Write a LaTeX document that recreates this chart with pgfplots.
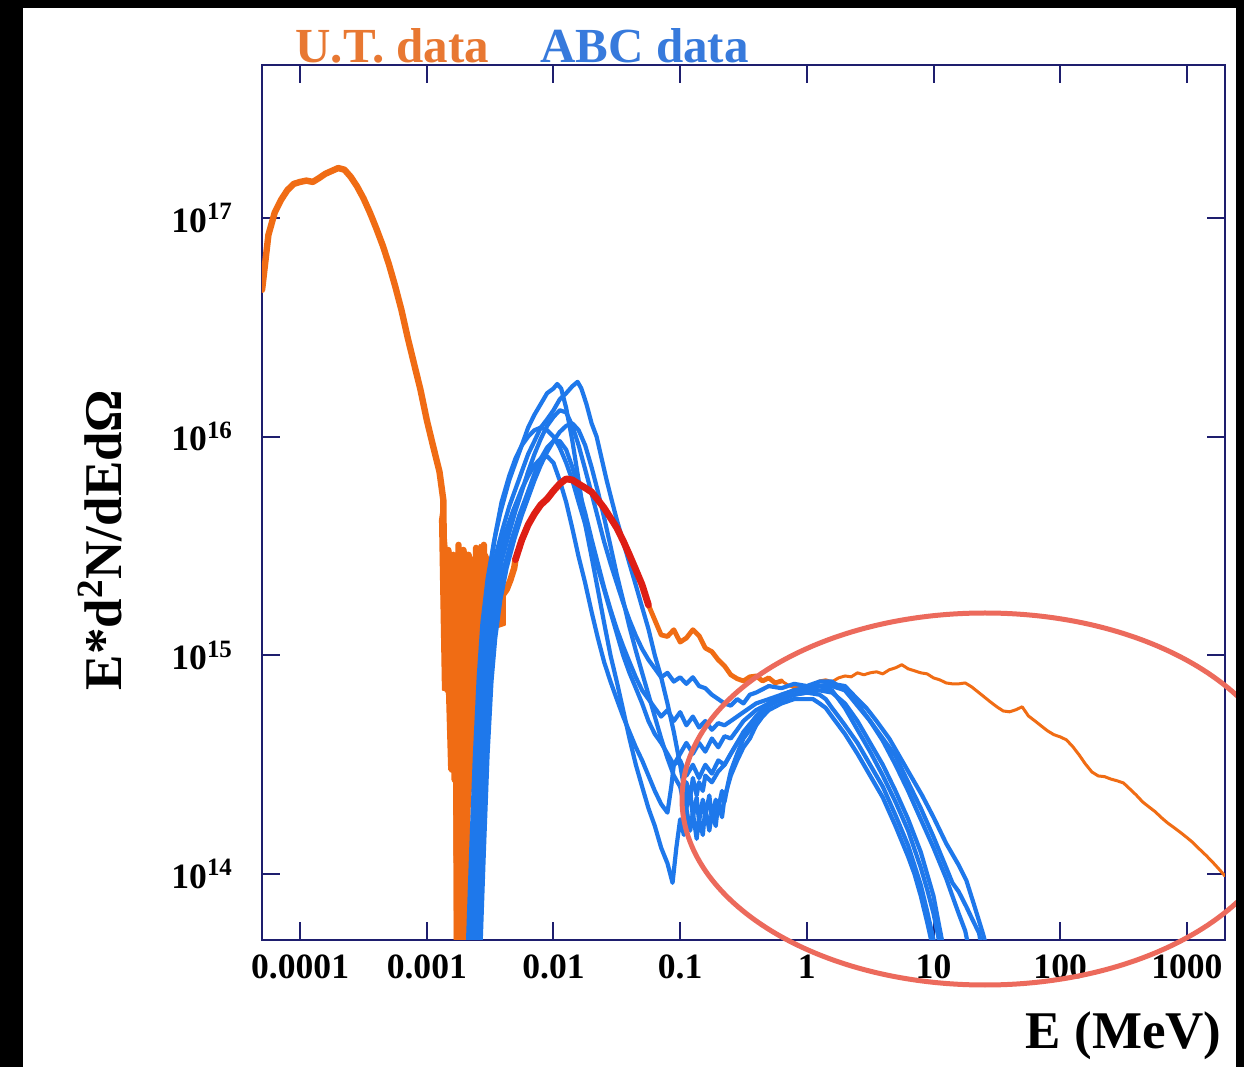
\documentclass[border=0pt]{standalone}
\usepackage{fontspec}
\setmainfont{Liberation Serif}
\usepackage{pgfplots}
\pgfplotsset{compat=1.18}
\definecolor{utorange}{RGB}{240,108,20}
\definecolor{uttitle}{RGB}{232,120,50}
\definecolor{abcblue}{RGB}{30,120,235}
\definecolor{abctitle}{RGB}{55,122,220}
\definecolor{utred}{RGB}{222,30,20}
\definecolor{ellred}{RGB}{236,106,92}
\definecolor{axnavy}{RGB}{30,30,110}
\begin{document}
\begin{tikzpicture}
\useasboundingbox (-131pt,-63.5pt) rectangle (491pt,470pt);
\fill[black] (-131pt,-63.5pt) rectangle (491pt,470pt);
\fill[white] (-119.5pt,-63.5pt) rectangle (487pt,466pt);
\begin{axis}[
  at={(0pt,0pt)}, anchor=south west,
  scale only axis, width=481.5pt, height=437.5pt,
  xmode=log, ymode=log,
  xmin=5e-5, xmax=2e3, ymin=5e13, ymax=5e17,
  axis line style={axnavy, line width=1pt},
  every tick/.style={axnavy, line width=1pt},
  major tick length=9pt, tick align=inside,
  xtick={1e-4,1e-3,1e-2,1e-1,1,10,100,1000},
  xticklabels={0.0001,0.001,0.01,0.1,1,10,100,1000},
  ytick={1e14,1e15,1e16,1e17},
  yticklabels={10\textsuperscript{14},10\textsuperscript{15},10\textsuperscript{16},10\textsuperscript{17}},
  xminorticks=false, yminorticks=false,
  tick label style={font=\fontsize{17.8}{20}\selectfont\bfseries, text=black},
  xticklabel style={yshift=-4pt},
  yticklabel style={xshift=-11pt},
  every axis plot/.append style={line join=round, line cap=round},
  clip=true,
]
% U.T. data, solid noisy region
\addplot[fill=utorange, draw=utorange, line width=1pt] coordinates {
(1.27e-3,4.16e15) (1.34e-3,5.14e15) (1.44e-3,3.03e15) (1.67e-3,2.88e15) (1.93e-3,3.10e15)
(2.28e-3,2.74e15) (2.63e-3,3.20e15) (2.99e-3,2.88e15) (3.45e-3,2.33e15) (4.14e-3,1.89e15)
(4.14e-3,1.38e15) (3.15e-3,1.31e15) (2.63e-3,6.27e14) (2.19e-3,2.18e14) (2.04e-3,4e13)
(1.67e-3,4e13) (1.64e-3,3.0e14) (1.50e-3,3.0e14) (1.44e-3,6.95e14) (1.34e-3,6.95e14)
(1.27e-3,4.16e15)
} -- cycle;
% U.T. data, low-energy part with noisy dip
\addplot[utorange, line width=3.2pt] coordinates {
(5.01e-5,4.69e16) (5.62e-5,8.36e16) (6.31e-5,1.06e17) (7.08e-5,1.21e17) (7.94e-5,1.34e17)
(8.91e-5,1.43e17) (1.00e-4,1.46e17) (1.12e-4,1.48e17) (1.26e-4,1.46e17) (1.41e-4,1.52e17)
(1.58e-4,1.59e17) (1.78e-4,1.64e17) (2.00e-4,1.69e17) (2.24e-4,1.66e17) (2.51e-4,1.54e17)
(2.82e-4,1.39e17) (3.16e-4,1.23e17) (3.55e-4,1.06e17) (3.98e-4,9.00e16) (4.47e-4,7.53e16)
(5.01e-4,6.17e16) (5.62e-4,4.89e16) (6.31e-4,3.79e16) (7.08e-4,2.82e16) (7.94e-4,2.15e16)
(8.91e-4,1.64e16) (1.00e-3,1.19e16) (1.12e-3,9.08e15) (1.26e-3,6.90e15) (1.35e-3,5.14e15)
(1.36e-3,3.37e15) (1.38e-3,1.18e15) (1.41e-3,2.74e15) (1.45e-3,6.95e14) (1.48e-3,3.03e15)
(1.51e-3,6.26e14) (1.55e-3,2.59e15) (1.58e-3,3.0e14) (1.62e-3,2.88e15) (1.66e-3,2.70e14)
(1.70e-3,2.74e15) (1.74e-3,1e13) (1.78e-3,3.20e15) (1.82e-3,1e13) (1.86e-3,2.59e15)
(1.91e-3,1e13) (1.95e-3,3.03e15) (2.00e-3,1e13) (2.04e-3,2.59e15) (2.09e-3,2.19e14)
(2.14e-3,2.88e15) (2.19e-3,3.33e14) (2.24e-3,2.46e15) (2.29e-3,4.11e14) (2.34e-3,2.74e15)
(2.40e-3,5.07e14) (2.45e-3,3.10e15) (2.51e-3,6.26e14) (2.57e-3,2.46e15) (2.63e-3,7.73e14)
(2.69e-3,2.74e15) (2.75e-3,9.53e14) (2.82e-3,3.20e15) (2.88e-3,1.18e15) (2.95e-3,2.59e15)
(3.02e-3,1.31e15) (3.09e-3,2.33e15) (3.16e-3,1.38e15) (3.24e-3,2.10e15) (3.31e-3,1.31e15)
(3.39e-3,2.0e15) (3.47e-3,1.45e15) (3.55e-3,1.79e15) (3.72e-3,1.70e15) (3.98e-3,1.89e15)
(4.27e-3,2.0e15) (4.57e-3,2.21e15) (4.90e-3,2.51e15) (5.01e-3,2.74e15)
};
% U.T. data, high-energy part
\addplot[utorange, line width=2.4pt] coordinates {
(5.62e-2,1.70e15) (6.31e-2,1.45e15) (7.08e-2,1.24e15) (7.94e-2,1.22e15) (8.91e-2,1.31e15)
(0.100,1.15e15) (0.112,1.20e15) (0.126,1.31e15) (0.141,1.23e15) (0.158,1.08e15)
(0.178,1.04e15) (0.200,9.53e14) (0.224,8.95e14) (0.251,8.15e14) (0.282,7.82e14)
(0.316,7.64e14) (0.355,7.98e14) (0.398,8.05e14) (0.447,7.64e14) (0.501,7.89e14)
(0.562,7.48e14) (0.631,7.64e14)
};
\addplot[utorange, line width=1.5pt] coordinates {
(0.631,7.64e14) (0.708,7.33e14) (0.794,7.10e14) (0.891,7.26e14) (1.00,6.95e14)
(1.12,7.26e14) (1.26,7.64e14) (1.41,7.73e14) (1.58,7.57e14) (1.78,7.89e14)
(2.00,8.05e14) (2.24,7.98e14) (2.51,8.32e14) (2.82,8.15e14) (3.16,8.32e14)
(3.55,8.41e14) (3.98,8.23e14) (4.47,8.59e14) (5.01,8.77e14) (5.62,9.06e14)
(6.31,8.68e14) (7.08,8.50e14) (7.94,8.32e14) (8.91,8.23e14) (10.0,7.89e14)
(11.2,7.73e14) (12.6,7.48e14) (14.1,7.41e14) (15.8,7.41e14) (17.8,7.48e14)
(20.0,7.18e14) (22.4,6.81e14) (25.1,6.46e14) (28.2,6.12e14) (31.6,5.82e14)
(35.5,5.57e14) (39.8,5.52e14) (44.7,5.64e14) (50.1,5.82e14) (56.2,5.28e14)
(63.1,5.02e14) (70.8,4.76e14) (79.4,4.52e14) (89.1,4.34e14) (100,4.24e14)
(112,4.11e14) (126,3.82e14) (141,3.51e14) (158,3.19e14) (178,2.93e14)
(200,2.81e14) (224,2.79e14) (251,2.72e14) (282,2.67e14) (316,2.61e14)
(355,2.45e14) (398,2.30e14) (447,2.14e14) (501,2.03e14) (562,1.93e14)
(631,1.81e14) (708,1.71e14) (794,1.63e14) (891,1.55e14) (1000,1.47e14)
(1122,1.39e14) (1259,1.30e14) (1413,1.22e14) (1585,1.14e14) (1778,1.06e14)
(1995,9.82e13)
};
% ABC data
\addplot[abcblue, line width=2.1pt] coordinates {
(2.00e-3,2.0e13) (2.09e-3,3.98e13) (2.24e-3,1.26e14) (2.40e-3,3.55e14) (2.57e-3,7.94e14)
(2.75e-3,1.41e15) (3.02e-3,2.24e15) (3.39e-3,3.31e15) (3.80e-3,4.47e15) (4.47e-3,6.31e15)
(5.01e-3,7.59e15) (5.62e-3,9.12e15) (6.31e-3,1.10e16) (7.08e-3,1.26e16) (7.94e-3,1.41e16)
(8.91e-3,1.58e16) (1.00e-2,1.66e16) (1.07e-2,1.74e16) (1.15e-2,1.66e16) (1.26e-2,1.35e16)
(1.41e-2,9.55e15) (1.58e-2,6.31e15) (1.78e-2,3.98e15) (2.00e-2,2.82e15) (2.24e-2,2.00e15)
(2.51e-2,1.41e15) (2.82e-2,1.00e15) (3.16e-2,7.59e14) (3.55e-2,5.62e14) (3.98e-2,4.17e14)
(4.47e-2,3.16e14) (5.01e-2,2.51e14) (5.62e-2,2.00e14) (6.31e-2,1.66e14) (7.08e-2,1.32e14)
(7.94e-2,1.12e14) (8.71e-2,9.12e13) (9.33e-2,1.32e14) (0.100,1.78e14) (0.107,1.51e14)
(0.112,2.00e14) (0.120,1.58e14) (0.126,1.91e14) (0.135,1.45e14) (0.141,1.78e14)
(0.151,1.51e14) (0.158,2.00e14) (0.170,1.58e14) (0.178,1.91e14) (0.191,1.66e14)
(0.200,2.14e14) (0.214,1.82e14) (0.224,2.24e14) (0.251,2.82e14) (0.282,3.31e14)
(0.316,3.80e14) (0.355,4.17e14) (0.398,4.79e14) (0.447,5.25e14) (0.501,5.62e14)
(0.631,6.03e14) (0.794,6.31e14) (1.00,6.31e14) (1.12,6.31e14) (1.26,6.03e14)
(1.41,5.75e14) (1.58,5.25e14) (2.00,4.37e14) (2.51,3.55e14) (3.16,2.82e14)
(3.98,2.24e14) (5.01,1.66e14) (6.31,1.20e14) (7.08,1.00e14) (7.94,7.94e13)
(8.91,6.03e13) (10.0,4.47e13)
};
\addplot[abcblue, line width=2.1pt] coordinates {
(2.00e-3,2.0e13) (2.19e-3,3.98e13) (2.34e-3,1.26e14) (2.51e-3,3.55e14) (2.69e-3,7.94e14)
(2.88e-3,1.32e15) (3.16e-3,2.00e15) (3.55e-3,2.95e15) (3.98e-3,3.80e15) (4.47e-3,4.79e15)
(5.01e-3,5.75e15) (5.62e-3,6.92e15) (6.31e-3,8.32e15) (7.08e-3,9.55e15) (7.94e-3,1.10e16)
(8.91e-3,1.20e16) (1.00e-2,1.32e16) (1.12e-2,1.48e16) (1.26e-2,1.58e16) (1.41e-2,1.70e16)
(1.55e-2,1.78e16) (1.66e-2,1.66e16) (1.82e-2,1.41e16) (2.00e-2,1.15e16) (2.19e-2,1.00e16)
(2.40e-2,7.94e15) (2.63e-2,6.31e15) (2.88e-2,5.13e15) (3.16e-2,4.17e15) (3.55e-2,3.31e15)
(3.98e-2,2.63e15) (4.47e-2,2.09e15) (5.01e-2,1.66e15) (5.62e-2,1.32e15) (6.31e-2,1.00e15)
(7.08e-2,7.94e14) (7.94e-2,6.03e14) (8.91e-2,4.47e14) (0.100,3.16e14) (0.107,2.51e14)
(0.112,2.00e14) (0.120,2.40e14) (0.126,1.82e14) (0.135,2.24e14) (0.141,1.74e14)
(0.151,2.19e14) (0.158,1.86e14) (0.170,2.29e14) (0.178,1.78e14) (0.191,2.19e14)
(0.200,2.00e14) (0.214,2.40e14) (0.224,2.14e14) (0.240,2.63e14) (0.251,2.95e14)
(0.282,3.55e14) (0.316,4.17e14) (0.355,4.57e14) (0.398,5.01e14) (0.447,5.50e14)
(0.501,6.03e14) (0.631,6.31e14) (0.794,6.61e14) (1.00,6.76e14) (1.26,6.61e14)
(1.41,6.31e14) (1.58,5.75e14) (1.78,5.25e14) (2.00,4.79e14) (2.51,3.98e14)
(3.16,3.16e14) (3.98,2.51e14) (5.01,1.86e14) (6.31,1.35e14) (7.94,8.91e13)
(8.91,6.76e13) (10.0,5.01e13) (11.2,3.55e13)
};
\addplot[abcblue, line width=2.1pt] coordinates {
(2.00e-3,2.0e13) (2.14e-3,3.98e13) (2.29e-3,1.26e14) (2.45e-3,3.55e14) (2.63e-3,7.94e14)
(2.82e-3,1.41e15) (3.09e-3,2.24e15) (3.47e-3,3.55e15) (3.89e-3,5.01e15) (4.47e-3,6.61e15)
(5.01e-3,7.94e15) (5.62e-3,9.12e15) (6.31e-3,1.00e16) (7.08e-3,1.07e16) (7.94e-3,1.10e16)
(8.91e-3,1.07e16) (1.00e-2,1.00e16) (1.12e-2,8.91e15) (1.26e-2,7.59e15) (1.41e-2,6.31e15)
(1.58e-2,5.01e15) (1.78e-2,3.98e15) (2.00e-2,3.16e15) (2.24e-2,2.51e15) (2.51e-2,2.00e15)
(2.82e-2,1.58e15) (3.16e-2,1.26e15) (3.55e-2,1.00e15) (3.98e-2,8.32e14) (4.47e-2,7.08e14)
(5.01e-2,6.03e14) (5.62e-2,5.01e14) (6.31e-2,4.37e14) (7.08e-2,3.98e14) (7.94e-2,3.55e14)
(8.91e-2,3.16e14) (0.100,3.31e14) (0.112,2.82e14) (0.126,3.16e14) (0.141,2.75e14)
(0.158,3.16e14) (0.178,2.88e14) (0.200,3.31e14) (0.224,3.16e14) (0.251,3.55e14)
(0.282,3.98e14) (0.316,4.37e14) (0.355,4.79e14) (0.398,5.25e14) (0.501,6.03e14)
(0.631,6.61e14) (0.794,6.92e14) (1.00,7.08e14) (1.26,7.24e14) (1.58,6.92e14)
(1.78,6.31e14) (2.00,5.75e14) (2.24,5.13e14) (2.51,4.57e14) (3.16,3.63e14)
(3.98,2.82e14) (5.01,2.14e14) (6.31,1.58e14) (7.94,1.07e14) (8.91,8.51e13)
(10.0,6.61e13) (11.2,4.79e13) (12.6,3.16e13)
};
\addplot[abcblue, line width=2.1pt] coordinates {
(2.00e-3,1.0e13) (2.29e-3,3.98e13) (2.45e-3,1.26e14) (2.63e-3,3.55e14) (2.82e-3,7.94e14)
(3.02e-3,1.32e15) (3.31e-3,2.00e15) (3.72e-3,2.82e15) (4.17e-3,3.63e15) (4.79e-3,4.57e15)
(5.62e-3,5.75e15) (6.31e-3,6.61e15) (7.08e-3,7.41e15) (7.94e-3,7.94e15) (8.91e-3,8.13e15)
(1.00e-2,7.59e15) (1.12e-2,6.31e15) (1.26e-2,5.01e15) (1.41e-2,3.80e15) (1.58e-2,2.82e15)
(1.78e-2,2.14e15) (2.00e-2,1.58e15) (2.24e-2,1.20e15) (2.51e-2,9.33e14) (2.82e-2,7.59e14)
(3.16e-2,6.31e14) (3.55e-2,5.25e14) (3.98e-2,4.47e14) (4.47e-2,3.80e14) (5.01e-2,3.31e14)
(5.62e-2,2.82e14) (6.31e-2,2.40e14) (7.08e-2,2.09e14) (7.94e-2,1.91e14) (8.51e-2,2.51e14)
(8.91e-2,3.16e14) (0.100,3.55e14) (0.112,3.98e14) (0.126,3.55e14) (0.141,3.98e14)
(0.158,3.63e14) (0.178,4.17e14) (0.200,3.80e14) (0.224,4.27e14) (0.251,4.17e14)
(0.282,4.57e14) (0.316,5.01e14) (0.398,5.62e14) (0.501,6.03e14) (0.631,6.31e14)
(0.794,6.61e14) (1.00,6.76e14) (1.26,6.92e14) (1.58,6.76e14) (2.00,6.03e14)
(2.24,5.50e14) (2.51,5.01e14) (3.16,3.98e14) (3.98,3.16e14) (5.01,2.40e14)
(6.31,1.78e14) (7.94,1.26e14) (10.0,7.94e13) (11.2,5.62e13) (12.6,3.98e13)
};
\addplot[abcblue, line width=2.1pt] coordinates {
(2.00e-3,1.0e13) (2.40e-3,3.98e13) (2.57e-3,1.26e14) (2.75e-3,3.55e14) (2.95e-3,7.94e14)
(3.16e-3,1.26e15) (3.47e-3,1.91e15) (3.89e-3,2.69e15) (4.47e-3,3.63e15) (5.01e-3,4.57e15)
(5.62e-3,5.62e15) (6.31e-3,6.92e15) (7.08e-3,8.32e15) (7.94e-3,9.77e15) (8.91e-3,1.12e16)
(1.00e-2,1.23e16) (1.12e-2,1.32e16) (1.26e-2,1.29e16) (1.41e-2,1.12e16) (1.58e-2,9.12e15)
(1.78e-2,7.08e15) (2.00e-2,5.50e15) (2.24e-2,4.27e15) (2.51e-2,3.31e15) (2.82e-2,2.63e15)
(3.16e-2,2.14e15) (3.55e-2,1.74e15) (3.98e-2,1.45e15) (4.47e-2,1.23e15) (5.01e-2,1.07e15)
(5.62e-2,9.55e14) (6.31e-2,8.71e14) (7.08e-2,7.94e14) (7.94e-2,8.32e14) (8.91e-2,7.59e14)
(0.100,7.94e14) (0.112,7.41e14) (0.126,7.94e14) (0.141,7.24e14) (0.158,7.08e14)
(0.178,6.61e14) (0.200,6.31e14) (0.224,6.03e14) (0.251,5.89e14) (0.282,6.31e14)
(0.316,6.03e14) (0.355,6.61e14) (0.398,6.76e14) (0.501,7.24e14) (0.631,7.08e14)
(0.794,7.41e14) (1.00,7.24e14) (1.26,7.59e14) (1.58,7.59e14) (2.00,6.92e14)
(2.51,5.89e14) (3.16,5.01e14) (3.98,4.17e14) (5.01,3.47e14) (6.31,2.63e14)
(7.94,2.00e14) (10.0,1.48e14) (12.6,1.07e14) (14.1,9.12e13) (15.8,8.32e13)
(18.2,7.08e13) (20.0,6.31e13) (22.9,5.37e13) (25.1,3.98e13)
};
\addplot[abcblue, line width=2.1pt] coordinates {
(2.00e-3,1.0e13) (2.51e-3,3.98e13) (2.69e-3,1.26e14) (2.88e-3,3.55e14) (3.09e-3,7.59e14)
(3.31e-3,1.20e15) (3.63e-3,1.78e15) (4.07e-3,2.51e15) (4.68e-3,3.39e15) (5.37e-3,4.37e15)
(6.31e-3,5.62e15) (7.08e-3,6.76e15) (7.94e-3,7.94e15) (8.91e-3,8.91e15) (1.00e-2,9.55e15)
(1.12e-2,9.55e15) (1.26e-2,8.71e15) (1.41e-2,7.24e15) (1.58e-2,5.75e15) (1.78e-2,4.47e15)
(2.00e-2,3.39e15) (2.24e-2,2.63e15) (2.51e-2,2.04e15) (2.82e-2,1.62e15) (3.16e-2,1.32e15)
(3.55e-2,1.10e15) (3.98e-2,9.33e14) (4.47e-2,7.94e14) (5.01e-2,6.92e14) (5.62e-2,6.31e14)
(6.31e-2,5.75e14) (7.08e-2,5.25e14) (7.94e-2,5.62e14) (8.91e-2,5.01e14) (0.100,5.50e14)
(0.112,4.79e14) (0.126,5.25e14) (0.141,4.68e14) (0.158,5.01e14) (0.178,4.57e14)
(0.200,4.90e14) (0.224,4.79e14) (0.251,5.01e14) (0.316,5.50e14) (0.398,6.03e14)
(0.501,6.31e14) (0.631,6.61e14) (0.794,6.92e14) (1.00,7.08e14) (1.26,7.24e14)
(1.58,7.24e14) (2.00,6.92e14) (2.51,6.03e14) (3.16,5.01e14) (3.98,4.07e14)
(5.01,3.16e14) (6.31,2.40e14) (7.94,1.78e14) (10.0,1.32e14) (12.6,9.55e13)
(14.1,7.94e13) (15.8,6.61e13) (17.8,5.50e13) (20.0,3.98e13)
};
\addplot[abcblue, line width=2.1pt] coordinates {
(2.00e-3,1.0e13) (2.63e-3,3.98e13) (2.82e-3,1.26e14) (3.02e-3,3.55e14) (3.24e-3,7.59e14)
(3.47e-3,1.20e15) (3.80e-3,1.78e15) (4.27e-3,2.51e15) (4.90e-3,3.39e15) (5.62e-3,4.37e15)
(6.31e-3,5.25e15) (7.08e-3,6.31e15) (7.94e-3,7.41e15) (8.91e-3,8.51e15) (1.00e-2,9.55e15)
(1.12e-2,1.05e16) (1.26e-2,1.12e16) (1.41e-2,1.15e16) (1.58e-2,1.07e16) (1.78e-2,9.12e15)
(2.00e-2,7.24e15) (2.24e-2,5.62e15) (2.51e-2,4.27e15) (2.82e-2,3.16e15) (3.16e-2,2.34e15)
(3.55e-2,1.78e15) (3.98e-2,1.35e15) (4.47e-2,1.05e15) (5.01e-2,8.32e14) (5.62e-2,6.61e14)
(6.31e-2,5.25e14) (7.08e-2,4.17e14) (7.94e-2,3.39e14) (8.91e-2,2.82e14) (0.100,2.51e14)
(0.107,2.09e14) (0.112,2.63e14) (0.120,2.24e14) (0.126,2.75e14) (0.135,2.29e14)
(0.141,2.63e14) (0.151,2.40e14) (0.158,2.82e14) (0.178,2.63e14) (0.200,2.95e14)
(0.224,3.16e14) (0.251,3.55e14) (0.282,3.98e14) (0.316,4.47e14) (0.398,5.25e14)
(0.501,5.89e14) (0.631,6.31e14) (0.794,6.61e14) (1.00,6.92e14) (1.26,7.24e14)
(1.58,7.41e14) (2.00,7.24e14) (2.51,6.31e14) (2.95,5.75e14) (3.55,5.01e14)
(4.47,4.17e14) (5.37,3.47e14) (6.31,2.95e14) (8.13,2.29e14) (10.0,1.82e14)
(12.6,1.38e14) (15.8,1.10e14) (18.2,9.33e13) (20.9,7.24e13) (24.5,5.37e13)
(28.2,3.98e13)
};
% U.T. data, highlighted red part
\addplot[utred, line width=3.4pt] coordinates {
(5.01e-3,2.74e15) (5.62e-3,3.37e15) (6.31e-3,3.95e15) (7.08e-3,4.44e15) (7.94e-3,4.88e15)
(8.91e-3,5.19e15) (1.00e-2,5.65e15) (1.12e-2,6.08e15) (1.26e-2,6.41e15) (1.41e-2,6.34e15)
(1.58e-2,6.08e15) (1.78e-2,5.83e15) (2.00e-2,5.58e15) (2.24e-2,5.14e15) (2.51e-2,4.72e15)
(2.82e-2,4.25e15) (3.16e-2,3.83e15) (3.55e-2,3.34e15) (3.98e-2,2.88e15) (4.47e-2,2.46e15)
(5.01e-2,2.10e15) (5.62e-2,1.70e15)
};
\end{axis}
% titles and labels
\node[anchor=base west, inner sep=0pt, text=uttitle, font=\fontsize{24.5}{27}\selectfont\bfseries] at (16.5pt,438.5pt) {U.T. data};
\node[anchor=base west, inner sep=0pt, text=abctitle, font=\fontsize{24.5}{27}\selectfont\bfseries] at (139pt,438.5pt) {ABC data};
\node[anchor=base east, inner sep=0pt, font=\fontsize{26.5}{30}\selectfont\bfseries] at (480pt,-54pt) {E (MeV)};
\node[rotate=90, inner sep=0pt, font=\fontsize{26.5}{30}\selectfont\bfseries] at (-81pt,200pt) {E*d\textsuperscript{2}N/dEdΩ};
% annotation ellipse
\draw[ellred, line width=2.5pt] (361.5pt,70.5pt) ellipse [x radius=151.5pt, y radius=93pt];
% right black band on top
\fill[black] (487pt,-63.5pt) rectangle (491pt,470pt);
\end{tikzpicture}
\end{document}
